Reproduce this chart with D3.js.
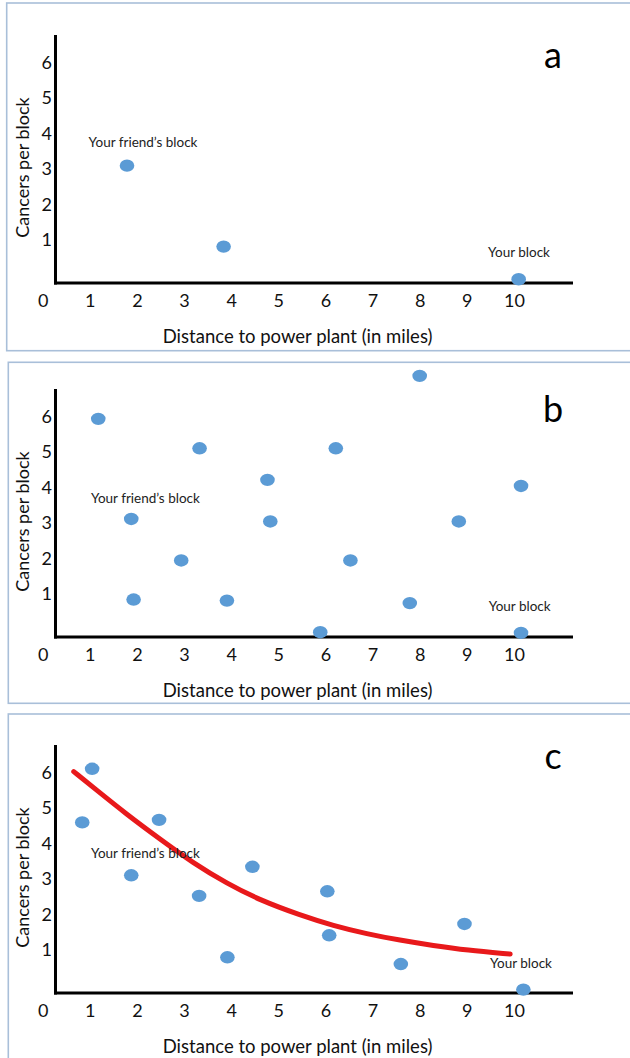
<!DOCTYPE html>
<html>
<head>
<meta charset="utf-8">
<script src="https://cdn.jsdelivr.net/npm/d3@7.9.0/dist/d3.min.js"></script>
<style>
  html, body { margin: 0; padding: 0; background: #fff; }
  svg { display: block; font-family: Lato, "Open Sans", sans-serif; }
</style>
</head>
<body>
<svg id="chart" width="630" height="1058"></svg>
<script>
// tick labels
const xTicks = [0, 1, 2, 3, 4, 5, 6, 7, 8, 9, 10];
const yTicks = [1, 2, 3, 4, 5, 6];

// panel a
const distA = [1.79, 3.84, 10.1];
const cancersA = [3.1, 0.82, -0.1];

// panel b
const distB = [1.18, 8.0, 3.33, 6.22, 4.77, 10.15, 1.88, 4.83, 8.83, 2.94, 6.53, 1.93, 3.91, 7.79, 5.89, 10.15];
const cancersB = [5.94, 7.15, 5.11, 5.11, 4.22, 4.05, 3.12, 3.05, 3.05, 1.95, 1.95, 0.85, 0.82, 0.75, -0.07, -0.09];

// panel c
const distC = [1.05, 0.84, 2.47, 1.88, 4.45, 3.32, 6.04, 6.08, 8.95, 3.92, 7.6, 10.2];
const cancersC = [6.11, 4.6, 4.67, 3.11, 3.35, 2.53, 2.66, 1.42, 1.74, 0.8, 0.61, -0.11];

// trend line in panel c
const trendDist = [0.66, 1.08, 1.78, 2.49, 3.2, 3.91, 4.61, 5.46, 6.17, 6.88, 7.58, 8.29, 9.0, 9.92];
const trendCancers = [6.03, 5.58, 4.83, 4.13, 3.45, 2.88, 2.41, 1.99, 1.69, 1.46, 1.28, 1.13, 1.0, 0.89];

const panels = [
  { letter: 'a', top: 0, frameTop: 3, frameBottom: 350.7, frameLeft: 6.7, xs: distA, ys: cancersA, friend: [143, 142.7], yours: [519, 252.3] },
  { letter: 'b', top: 354, frameTop: 362.3, frameBottom: 703.3, frameLeft: 8.3, xs: distB, ys: cancersB, friend: [145.4, 498.3], yours: [519.7, 606] },
  { letter: 'c', top: 710, frameTop: 714, frameBottom: 1070, frameLeft: 8.3, xs: distC, ys: cancersC, friend: [145.4, 853.3], yours: [521, 963.3] }
];

const svg = d3.select('#chart');

const x = d3.scaleLinear().domain([0, 10]).range([42.65, 513.95]);
const y = d3.scaleLinear().domain([0, 6]).range([275.7, 62.7]);

panels.forEach(p => {
  // light frame round each panel
  svg.append('rect')
    .attr('x', p.frameLeft)
    .attr('y', p.frameTop)
    .attr('width', 640 - p.frameLeft)
    .attr('height', p.frameBottom - p.frameTop)
    .attr('fill', 'none')
    .attr('stroke', '#a9bfd9')
    .attr('stroke-width', 1.6);

  const g = svg.append('g').attr('transform', `translate(0,${p.top})`);

  // tick labels through d3 axes, no tick marks
  const xAxis = g.append('g')
    .attr('transform', 'translate(0,294)')
    .call(d3.axisBottom(x).tickValues(xTicks).tickSize(0).tickPadding(0).tickFormat(d3.format('d')));
  xAxis.select('.domain').remove();
  xAxis.selectAll('text')
    .attr('font-family', 'Lato, sans-serif')
    .attr('font-size', 18)
    .attr('fill', '#111');

  const yAxis = g.append('g')
    .attr('transform', 'translate(52,0)')
    .call(d3.axisLeft(y).tickValues(yTicks).tickSize(0).tickPadding(0).tickFormat(d3.format('d')));
  yAxis.select('.domain').remove();
  yAxis.selectAll('text')
    .attr('font-family', 'Lato, sans-serif')
    .attr('font-size', 18)
    .attr('fill', '#111');

  // axis lines
  g.append('line')
    .attr('x1', 55.5).attr('x2', 55.5)
    .attr('y1', 35).attr('y2', 284.5)
    .attr('stroke', '#000').attr('stroke-width', 3);
  g.append('line')
    .attr('x1', 54).attr('x2', 573)
    .attr('y1', 283).attr('y2', 283)
    .attr('stroke', '#000').attr('stroke-width', 3);

  // axis titles
  g.append('text')
    .attr('x', 297.6).attr('y', 342.5)
    .attr('text-anchor', 'middle')
    .attr('font-size', 18.5)
    .attr('fill', '#111')
    .text('Distance to power plant (in miles)');
  g.append('text')
    .attr('transform', 'translate(29,167.5) rotate(-90)')
    .attr('text-anchor', 'middle')
    .attr('font-size', 18)
    .attr('fill', '#111')
    .text('Cancers per block');

  // panel letter
  g.append('text')
    .attr('x', 553).attr('y', p.letter === 'c' ? 59 : 68)
    .attr('text-anchor', 'middle')
    .attr('font-size', 36)
    .attr('fill', '#000')
    .text(p.letter);

  // trend line only in panel c
  if (p.letter === 'c') {
    const line = d3.line()
      .x(i => x(trendDist[i]))
      .y(i => y(trendCancers[i]))
      .curve(d3.curveBasis);
    g.append('path')
      .attr('d', line(d3.range(trendDist.length)))
      .attr('fill', 'none')
      .attr('stroke', '#e8191b')
      .attr('stroke-width', 5)
      .attr('stroke-linecap', 'round');
  }

  // dots
  g.selectAll('ellipse')
    .data(d3.range(p.xs.length))
    .join('ellipse')
    .attr('cx', i => x(p.xs[i]))
    .attr('cy', i => y(p.ys[i]))
    .attr('rx', 7.3)
    .attr('ry', 6.2)
    .attr('fill', '#5b9bd5');

  // block labels
  svg.append('text')
    .attr('x', p.friend[0]).attr('y', p.friend[1] + 4.5)
    .attr('text-anchor', 'middle')
    .attr('font-size', 13.5)
    .attr('fill', '#222')
    .text('Your friend\u2019s block');
  svg.append('text')
    .attr('x', p.yours[0]).attr('y', p.yours[1] + 4.5)
    .attr('text-anchor', 'middle')
    .attr('font-size', 13.5)
    .attr('fill', '#222')
    .text('Your block');
});
</script>
</body>
</html>
